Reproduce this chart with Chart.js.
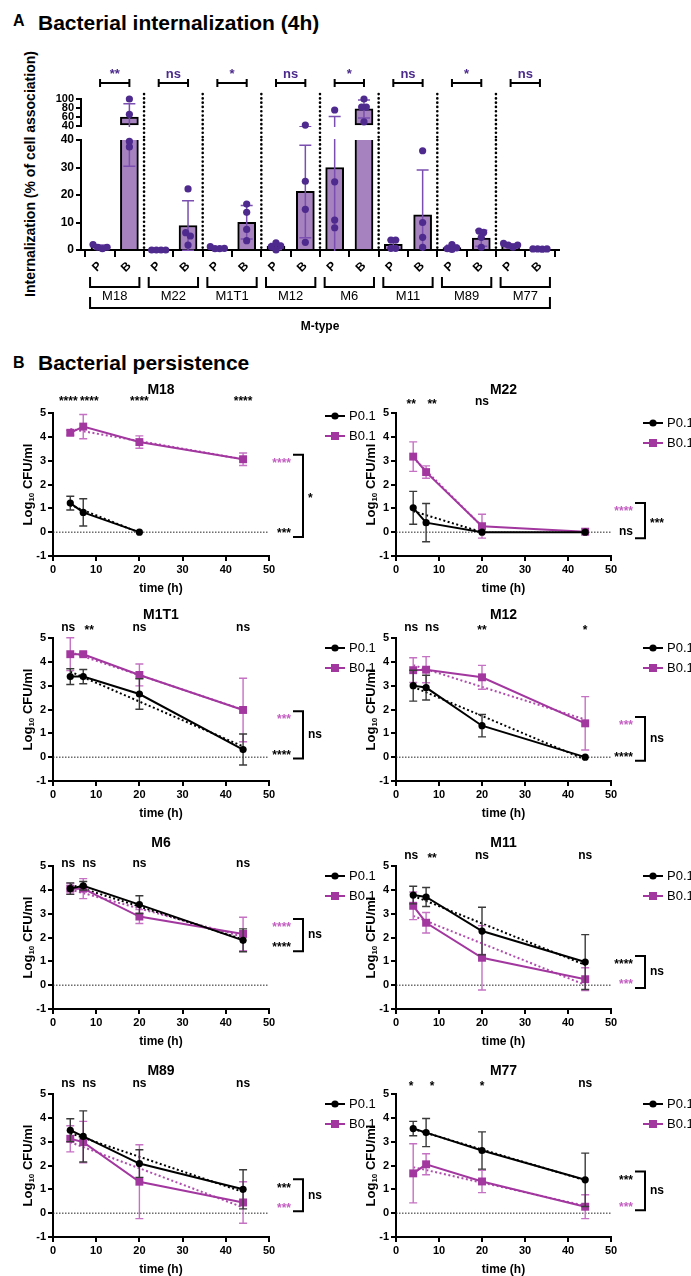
<!DOCTYPE html>
<html>
<head>
<meta charset="utf-8">
<title>Bacterial internalization and persistence</title>
<script src="https://cdn.jsdelivr.net/npm/chart.js@4.4.1/dist/chart.umd.min.js"></script>
<style>
  body { margin: 0; background: #fff; }
  #fig { position: relative; width: 691px; height: 1276px; overflow: hidden; background: #fff;
         font-family: 'Liberation Sans', Arial, Helvetica, sans-serif; color: #000; }
  #fig canvas { position: absolute; }
  .txt { position: absolute; font-weight: bold; white-space: nowrap; }
</style>
</head>
<body>
<div id="fig">
  <div class="txt" style="left:13px;top:12.7px;font-size:16px;line-height:16px">A</div>
  <div class="txt" style="left:38px;top:12.2px;font-size:21px;line-height:21px">Bacterial internalization (4h)</div>
  <div class="txt" style="left:-120px;top:167px;width:300px;text-align:center;font-size:14px;line-height:14px;transform:rotate(-90deg)">Internalization (% of cell association)</div>
  <div class="txt" style="left:13px;top:355px;font-size:16px;line-height:16px">B</div>
  <div class="txt" style="left:38px;top:352px;font-size:21px;line-height:21px">Bacterial persistence</div>
</div>
<script>
// ---- panel A: internalization (4h) ----
const groups = ['M18', 'M22', 'M1T1', 'M12', 'M6', 'M11', 'M89', 'M77'];
const barLabels = ['P', 'B'];
const pMean = [1.1, 0.1, 0.7, 1.3, 30.0, 2.1, 0.9, 1.7];
const pSd = [0.7, 0.1, 0.3, 1.1, 31.0, 1.5, 0.8, 0.6];
const bMean = [60.0, 8.9, 10.1, 21.3, 78.0, 12.8, 4.3, 0.35];
const bSd = [29.5, 9.0, 6.1, 16.8, 20.0, 16.3, 2.9, 0.1];
const pPoints = [[0.5, 2.0, 1.0, 1.0], [0, 0, 0, 0], [0.5, 1.2, 0.5, 0.6], [2.6, 0, 1.5, 1.2],
                 [75.6, 24.8, 10.9, 8.1], [3.6, 3.6, 0.6, 0.6], [0.2, 2.0, 0.5, 0.8], [2.4, 1.0, 1.8, 1.8]];
const bPoints = [[100, 66, 39.5, 37.5], [22.2, 6.3, 5.1, 1.8], [16.7, 13.7, 7.5, 3.4], [42, 25, 14.8, 2.8],
                 [100, 82, 82, 49], [36.1, 10, 4.6, 1], [6.9, 6.4, 4.6, 1], [0.3, 0.4, 0.4, 0.4]];
const sigA = ['**', 'ns', '*', 'ns', '*', 'ns', '*', 'ns'];

// ---- panel B: persistence, log10 CFU/ml (one row per M-type, same order as groups) ----
const times = [4, 7, 20, 44];
const pLog = [[1.22, 0.83, 0, null], [1.02, 0.40, 0, 0], [3.38, 3.38, 2.65, 0.32], [3.00, 2.92, 1.32, 0],
              [4.05, 4.17, 3.38, 1.88], [3.78, 3.70, 2.27, 0.97], [3.48, 3.22, 2.08, 1.00], [3.55, 3.38, 2.63, 1.40]];
const pLogSd = [[0.29, 0.57, 0, null], [0.69, 0.80, 0, 0], [0.33, 0.30, 0.64, 0.65], [0.65, 0.52, 0.47, 0],
                [0.24, 0.18, 0.37, 0.48], [0.37, 0.40, 1.00, 1.15], [0.48, 1.07, 0.58, 0.82], [0.30, 0.59, 0.78, 1.12]];
const bLog = [[4.17, 4.43, 3.78, 3.06], [3.17, 2.52, 0.25, 0.02], [4.32, 4.32, 3.45, 1.98], [3.65, 3.67, 3.35, 1.42],
              [4.05, 4.05, 2.88, 2.15], [3.33, 2.62, 1.15, 0.25], [3.12, 2.98, 1.32, 0.45], [1.67, 2.05, 1.33, 0.27]];
const bLogSd = [[0.10, 0.51, 0.26, 0.26], [0.62, 0.26, 0.50, 0], [0.69, 0.08, 0.46, 1.33], [0.52, 0.55, 0.50, 1.12],
                [0.22, 0.42, 0.29, 0.70], [0.58, 0.43, 1.35, 0.48], [0.55, 0.87, 1.55, 0.87], [1.24, 0.44, 0.47, 0.50]];
// linear fits: value at t=4 and at the last fitted time
const pFit = [[1.14, -0.02], [0.88, 0.0], [3.59, 0.45], [2.95, -0.10], [4.22, 1.92], [3.75, 0.85], [3.35, 0.89], [3.53, 1.38]];
const pFitEnd = [20, 20, 44, 44, 44, 44, 44, 44];
const bFit = [[4.33, 3.06], [3.12, 0.24], [4.41, 1.99], [3.86, 1.58], [4.01, 2.03], [2.91, 0.01], [2.98, 0.24], [1.93, 0.31]];
const bFitEnd = [44, 20, 44, 44, 44, 44, 44, 44];
const sigTime = [['****', '****', '****', '****'], ['**', '**', 'ns', null], ['ns', '**', 'ns', 'ns'], ['ns', 'ns', '**', '*'],
                 ['ns', 'ns', 'ns', 'ns'], ['ns', '**', 'ns', 'ns'], ['ns', 'ns', 'ns', 'ns'], ['*', '*', '*', 'ns']];
const sigSlopeP = ['***', 'ns', '****', '****', '****', '****', '***', '***'];
const sigSlopeB = ['****', '****', '***', '***', '****', '***', '***', '***'];
const sigPvsB = ['*', '***', 'ns', 'ns', 'ns', 'ns', 'ns', 'ns'];

// label placement (not data)
const slopeLblP = [0.05, 0, 0.2, 0.1, 1.68, 0.97, 1.17, 1.5];
const slopeLblB = [3.0, 0.97, 1.68, 1.43, 2.52, 0.13, 0.33, 0.37];
const starDy = [14, 11, 10, 10, 2, 10, 10, 10];
const starDx = [-2, 6, 0, 0];
const legendDy = [3, 10, 10, 10, 10, 10, 10, 10];
const rowTop = [413, 638, 866, 1094];

Chart.defaults.font.family = "'Liberation Sans', Arial, Helvetica, sans-serif";
Chart.defaults.color = '#000';
const FONT = Chart.defaults.font.family;
const BAR = '#a682bf', DOT = '#4e2a8e', ERR_A = '#7a4fb0', SIG_A = '#4b2a8c';
const PUR = '#a2379f', PUR_ERR = '#c572c4', PUR_FIT = '#b04cae', PUR_TXT = '#c45ec2';
const fig = document.getElementById('fig');

function addCanvas(left, top, w, h) {
  const c = document.createElement('canvas');
  c.width = w; c.height = h;
  c.style.left = left + 'px'; c.style.top = top + 'px';
  fig.appendChild(c);
  return c;
}

function axis(size, extra) {
  return Object.assign({
    grid: { drawOnChartArea: false, color: '#000', lineWidth: 2, tickLength: 5 },
    border: { color: '#000', width: 2 }
  }, extra, { ticks: Object.assign({ color: '#000', font: { size: size, weight: 'bold' }, padding: 2, autoSkip: false }, extra.ticks) });
}

// text where stars get nudged so the glyphs sit on the same centre as letters
function label(ctx, txt, x, y, align) {
  if (!txt) return;
  ctx.textAlign = align || 'center';
  ctx.textBaseline = 'middle';
  ctx.fillText(txt, x, txt[0] === '*' ? y + 3 : y);
}

// ---- build bar / dot data ----
const barVal = [], barSd = [];
groups.forEach((g, i) => { barVal.push(pMean[i], bMean[i]); barSd.push(pSd[i], bSd[i]); });
const barData = barVal.map((v, k) => ({ x: k, y: v }));

// simple beeswarm: spread overlapping dots sideways, then centre each row
function segPx(v) { return v <= 40 ? v * 2.75 : 124 + (v - 40) * 0.45; }
function swarm(vals) {
  const placed = [], out = [];
  const order = vals.map((v, n) => n).sort((a, b) => vals[a] - vals[b]);
  order.forEach(n => {
    const py = segPx(vals[n]);
    for (let k = 0; k < 20; k++) {
      const off = k === 0 ? 0 : (k % 2 ? -1 : 1) * Math.ceil(k / 2) * 0.16;
      if (placed.every(p => Math.hypot((p.off - off) * 29.3, p.py - py) >= 4.5)) {
        placed.push({ n, off, py }); out[n] = off; break;
      }
    }
  });
  const seen = new Set();
  placed.forEach(p => {
    if (seen.has(p.n)) return;
    const row = placed.filter(q => Math.abs(q.py - p.py) < 4.5);
    row.forEach(q => seen.add(q.n));
    if (row.length < 2) return;
    const offs = row.map(q => q.off);
    const mid = (Math.min(...offs) + Math.max(...offs)) / 2;
    row.forEach(q => { out[q.n] = q.off - mid; });
  });
  return out;
}
const dotData = [];
groups.forEach((g, i) => {
  [pPoints[i], bPoints[i]].forEach((pts, j) => {
    const offs = swarm(pts);
    pts.forEach((v, n) => dotData.push({ x: 2 * i + j + offs[n], y: v }));
  });
});

const errA = {
  id: 'errA',
  afterDatasetDraw(chart, args) {
    if (args.meta.type !== 'bar') return;
    const { ctx, chartArea: a, scales: { x, y } } = chart;
    ctx.save();
    ctx.beginPath(); ctx.rect(a.left, a.top - 1, a.right - a.left, a.bottom - a.top + 2); ctx.clip();
    ctx.strokeStyle = ERR_A; ctx.lineWidth = 1.5;
    barVal.forEach((v, k) => {
      const px = x.getPixelForValue(k);
      const y1 = y.getPixelForValue(v - barSd[k]), y2 = y.getPixelForValue(v + barSd[k]);
      ctx.beginPath();
      ctx.moveTo(px, y1); ctx.lineTo(px, y2);
      ctx.moveTo(px - 6, y1); ctx.lineTo(px + 6, y1);
      ctx.moveTo(px - 6, y2); ctx.lineTo(px + 6, y2);
      ctx.stroke();
    });
    ctx.restore();
  }
};

function separators(chart, yTop, yBot) {
  const { ctx, scales: { x } } = chart;
  ctx.save();
  ctx.strokeStyle = '#000'; ctx.lineWidth = 2.6; ctx.lineCap = 'round'; ctx.setLineDash([0.1, 4.2]);
  for (let g = 1; g < groups.length; g++) {
    const px = x.getPixelForValue(2 * g - 0.5);
    ctx.beginPath(); ctx.moveTo(px, yTop); ctx.lineTo(px, yBot); ctx.stroke();
  }
  ctx.restore();
}

const xA = { type: 'linear', min: -0.65, max: 15.65, offset: false };

// upper segment (40-100)
new Chart(addCanvas(0, 60, 691, 80), {
  type: 'bar',
  data: { datasets: [
    { type: 'bar', data: barData.filter(d => d.y > 40), base: 40, backgroundColor: BAR, borderColor: '#000',
      borderWidth: 2, borderSkipped: false, barThickness: 18, order: 2 },
    { type: 'scatter', data: dotData.filter(d => d.y > 40), pointRadius: 3.6, backgroundColor: DOT,
      borderWidth: 0, clip: false, order: 1 }
  ] },
  options: {
    responsive: false, animation: false,
    layout: { padding: { top: 39, bottom: 14, right: 132, left: 0 } },
    plugins: { legend: { display: false }, tooltip: { enabled: false } },
    scales: {
      x: Object.assign({ display: false }, xA),
      y: axis(11, { min: 40, max: 100, ticks: { stepSize: 20 }, afterFit: s => { s.width = 81; } })
    }
  },
  plugins: [errA, {
    id: 'sigA',
    afterDraw(chart) {
      const { ctx, chartArea: a, scales: { x } } = chart;
      separators(chart, a.top - 5, chart.height);
      ctx.save();
      ctx.strokeStyle = '#000'; ctx.lineWidth = 2; ctx.fillStyle = SIG_A;
      ctx.font = `bold 13px ${FONT}`;
      groups.forEach((g, i) => {
        const x1 = x.getPixelForValue(2 * i), x2 = x.getPixelForValue(2 * i + 1), yb = a.top - 16;
        ctx.beginPath();
        ctx.moveTo(x1, yb - 4); ctx.lineTo(x1, yb + 4);
        ctx.moveTo(x1, yb); ctx.lineTo(x2, yb);
        ctx.moveTo(x2, yb - 4); ctx.lineTo(x2, yb + 4);
        ctx.stroke();
        ctx.textAlign = 'center'; ctx.textBaseline = 'alphabetic';
        ctx.fillText(sigA[i], (x1 + x2) / 2, yb - 5);
      });
      ctx.restore();
    }
  }]
});

// lower segment (0-40) with M-type axis
new Chart(addCanvas(0, 126, 691, 214), {
  type: 'bar',
  data: { datasets: [
    { type: 'bar', data: barData, backgroundColor: BAR, borderColor: '#000', borderWidth: 2,
      barThickness: 18, clip: 0, order: 2 },
    { type: 'scatter', data: dotData.filter(d => d.y <= 40), pointRadius: 3.6, backgroundColor: DOT,
      borderWidth: 0, clip: false, order: 1 }
  ] },
  options: {
    responsive: false, animation: false,
    layout: { padding: { top: 14, bottom: 0, right: 132, left: 0 } },
    plugins: { legend: { display: false }, tooltip: { enabled: false } },
    scales: {
      x: axis(12, Object.assign({
        grid: { drawOnChartArea: false, color: '#000', lineWidth: 2, tickLength: 7 },
        ticks: { stepSize: 1, includeBounds: false, minRotation: 45, maxRotation: 45,
                 callback: v => barLabels[Math.round(v) % 2] },
        afterFit: s => { s.height = 90; }
      }, xA)),
      y: axis(12, { min: 0, max: 40, ticks: { stepSize: 10 }, afterFit: s => { s.width = 81; } })
    }
  },
  plugins: [errA, {
    id: 'mtype',
    beforeDatasetsDraw(chart) { separators(chart, chart.chartArea.top, chart.chartArea.bottom); },
    afterDraw(chart) {
      const { ctx, chartArea: a, scales: { x } } = chart;
      const yb = a.bottom;
      ctx.save();
      ctx.strokeStyle = '#000'; ctx.lineWidth = 2; ctx.fillStyle = '#000';
      ctx.font = `13px ${FONT}`;
      groups.forEach((g, i) => {
        const x1 = x.getPixelForValue(2 * i) - 10, x2 = x.getPixelForValue(2 * i + 1) + 10;
        ctx.beginPath();
        ctx.moveTo(x1, yb + 27); ctx.lineTo(x1, yb + 37); ctx.lineTo(x2, yb + 37); ctx.lineTo(x2, yb + 27);
        ctx.stroke();
        label(ctx, g, (x1 + x2) / 2, yb + 46);
      });
      const X1 = x.getPixelForValue(0) - 10, X2 = x.getPixelForValue(15) + 10;
      ctx.beginPath();
      ctx.moveTo(X1, yb + 47); ctx.lineTo(X1, yb + 58); ctx.lineTo(X2, yb + 58); ctx.lineTo(X2, yb + 47);
      ctx.stroke();
      ctx.font = `bold 12px ${FONT}`;
      label(ctx, 'M-type', (X1 + X2) / 2, yb + 77);
      ctx.restore();
    }
  }]
});

// ---- panel B: persistence curves ----
const persistPlugin = {
  id: 'persist',
  beforeDatasetsDraw(chart) {
    const { ctx, scales: { x, y } } = chart;
    const y0 = y.getPixelForValue(0);
    ctx.save();
    ctx.strokeStyle = '#222'; ctx.lineWidth = 1; ctx.setLineDash([1.5, 1.5]);
    ctx.beginPath(); ctx.moveTo(x.getPixelForValue(0), y0); ctx.lineTo(x.getPixelForValue(50), y0); ctx.stroke();
    ctx.restore();
  },
  beforeDatasetDraw(chart, args) {
    const ds = chart.data.datasets[args.index];
    if (!ds.errs) return;
    const { ctx, scales: { x, y } } = chart;
    ctx.save();
    ctx.strokeStyle = ds.errColor; ctx.lineWidth = 1.4;
    ds.data.forEach((d, k) => {
      const e = ds.errs[k];
      if (d.y === null || !e) return;
      const px = x.getPixelForValue(d.x);
      const y1 = y.getPixelForValue(d.y - e), y2 = y.getPixelForValue(d.y + e);
      ctx.beginPath();
      ctx.moveTo(px, y1); ctx.lineTo(px, y2);
      ctx.moveTo(px - 4, y1); ctx.lineTo(px + 4, y1);
      ctx.moveTo(px - 4, y2); ctx.lineTo(px + 4, y2);
      ctx.stroke();
    });
    ctx.restore();
  },
  afterDraw(chart, args, opts) {
    const i = opts.idx;
    const { ctx, chartArea: a, scales: { x, y } } = chart;
    ctx.save();
    ctx.fillStyle = '#000';
    // title and per-time significance
    ctx.font = `bold 14px ${FONT}`;
    label(ctx, groups[i], (a.left + a.right) / 2, a.top - 23);
    ctx.font = `bold 12px ${FONT}`;
    times.forEach((t, k) => label(ctx, sigTime[i][k], x.getPixelForValue(t) + starDx[k], a.top - starDy[i]));
    // slope significance + bracket
    const r = a.right;
    const yP = y.getPixelForValue(slopeLblP[i]), yB = y.getPixelForValue(slopeLblB[i]);
    ctx.fillStyle = '#000'; label(ctx, sigSlopeP[i], r + 22, yP, 'right');
    ctx.fillStyle = PUR_TXT; label(ctx, sigSlopeB[i], r + 22, yB, 'right');
    const bx = r + 34, yt = Math.min(yP, yB) - 6, yb = Math.max(yP, yB) + 6;
    ctx.strokeStyle = '#000'; ctx.lineWidth = 2;
    ctx.beginPath(); ctx.moveTo(bx - 10, yt); ctx.lineTo(bx, yt); ctx.lineTo(bx, yb); ctx.lineTo(bx - 10, yb); ctx.stroke();
    ctx.fillStyle = '#000'; label(ctx, sigPvsB[i], bx + 5, (yt + yb) / 2, 'left');
    // legend
    const lx = r + (opts.col ? 32 : 56);
    chart.data.datasets.slice(0, 2).forEach((ds, k) => {
      const ly = a.top + legendDy[i] + k * 20;
      ctx.strokeStyle = ds.borderColor; ctx.fillStyle = ds.borderColor; ctx.lineWidth = 2;
      ctx.beginPath(); ctx.moveTo(lx, ly); ctx.lineTo(lx + 20, ly); ctx.stroke();
      ctx.beginPath();
      if (ds.pointStyle === 'rect') ctx.rect(lx + 6, ly - 4, 8, 8); else ctx.arc(lx + 10, ly, 3.6, 0, Math.PI * 2);
      ctx.fill();
      ctx.fillStyle = '#000'; ctx.font = `13px ${FONT}`;
      label(ctx, ds.label, lx + 24, ly, 'left');
    });
    // y title with subscript
    ctx.translate(a.left - 25, (a.top + a.bottom) / 2);
    ctx.rotate(-Math.PI / 2);
    const f1 = `bold 13px ${FONT}`, f2 = `bold 8px ${FONT}`;
    ctx.font = f1; const w1 = ctx.measureText('Log').width, w3 = ctx.measureText(' CFU/ml').width;
    ctx.font = f2; const w2 = ctx.measureText('10').width;
    let tx = -(w1 + w2 + w3) / 2;
    ctx.fillStyle = '#000'; ctx.textAlign = 'left'; ctx.textBaseline = 'middle';
    ctx.font = f1; ctx.fillText('Log', tx, 0); tx += w1;
    ctx.font = f2; ctx.fillText('10', tx, 4); tx += w2;
    ctx.font = f1; ctx.fillText(' CFU/ml', tx, 0);
    ctx.restore();
  }
};

groups.forEach((g, i) => {
  const col = i % 2, row = Math.floor(i / 2);
  const cv = col ? addCanvas(345, rowTop[row] - 45, 346, 228) : addCanvas(0, rowTop[row] - 45, 400, 228);
  const axW = col ? 51 : 53, padR = col ? 80 : 131;
  new Chart(cv, {
    type: 'line',
    data: { datasets: [
      { label: 'P0.1', data: times.map((t, k) => ({ x: t, y: pLog[i][k] })), errs: pLogSd[i], errColor: '#3a3a3a',
        borderColor: '#000', backgroundColor: '#000', borderWidth: 2, pointStyle: 'circle', pointRadius: 3.6,
        pointBorderWidth: 0, order: 1 },
      { label: 'B0.1', data: times.map((t, k) => ({ x: t, y: bLog[i][k] })), errs: bLogSd[i], errColor: PUR_ERR,
        borderColor: PUR, backgroundColor: PUR, borderWidth: 2, pointStyle: 'rect', pointRadius: 5.6,
        pointBorderWidth: 0, order: 2 },
      { label: 'fitP', data: [{ x: times[0], y: pFit[i][0] }, { x: pFitEnd[i], y: pFit[i][1] }],
        borderColor: '#000', borderWidth: 2, borderDash: [2, 2.5], pointRadius: 0, order: 3 },
      { label: 'fitB', data: [{ x: times[0], y: bFit[i][0] }, { x: bFitEnd[i], y: bFit[i][1] }],
        borderColor: PUR_FIT, borderWidth: 2, borderDash: [2, 2.5], pointRadius: 0, order: 4 }
    ] },
    options: {
      responsive: false, animation: false,
      layout: { padding: { top: 45, right: padR, left: 0, bottom: 0 } },
      plugins: { legend: { display: false }, tooltip: { enabled: false }, persist: { idx: i, col: col } },
      scales: {
        x: axis(11, { type: 'linear', min: 0, max: 50, ticks: { stepSize: 10 },
          title: { display: true, text: 'time (h)', color: '#000', font: { size: 12, weight: 'bold' }, padding: 0 },
          afterFit: s => { s.height = 40; } }),
        y: axis(11, { min: -1, max: 5, ticks: { stepSize: 1 }, afterFit: s => { s.width = axW; } })
      }
    },
    plugins: [persistPlugin]
  });
});
</script>
</body>
</html>
